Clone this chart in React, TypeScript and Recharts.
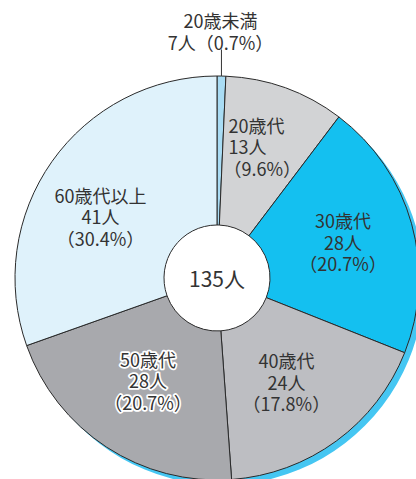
import React from "react";
import { PieChart, Pie, Cell } from "recharts";

const categories = ["20歳未満", "20歳代", "30歳代", "40歳代", "50歳代", "60歳代以上"];
const percents = [0.7, 9.6, 20.7, 17.8, 20.7, 30.4];
const countLabels = ["7人", "13人", "28人", "24人", "28人", "41人"];
const percentLabels = ["0.7%", "9.6%", "20.7%", "17.8%", "20.7%", "30.4%"];
const TOTAL_LABEL = "135人";

const colors = ["#a9dcf4", "#d2d3d5", "#14c0f0", "#bdbec2", "#a8a9ad", "#dff2fb"];
const labelRadius = [0, 140, 134, 131, 126, 128];
const labelShift: Array<[number, number]> = [
  [0, 0],
  [-36, 0],
  [-3, 0],
  [-8, -2],
  [0, -3],
  [-12, 12],
];

const data = categories.map((name, i) => ({
  name,
  value: percents[i],
  count: countLabels[i],
  pct: percentLabels[i],
}));

const shadowData = [{ name: "shadow", value: 1 }];
const centerData = [{ name: "total", value: 1 }];

const FONT = "'Noto Sans CJK JP', 'Noto Sans', sans-serif";
const RADIAN = Math.PI / 180;
const LINE_H = 21.5;
const FS = 18;

function renderLabel(props: any) {
  const { cx, cy, midAngle, outerRadius, index } = props;
  const d = data[index];
  const cos = Math.cos(-midAngle * RADIAN);
  const sin = Math.sin(-midAngle * RADIAN);
  if (index === 0) {
    const x0 = cx + outerRadius * cos;
    const y0 = cy + outerRadius * sin;
    const ty = 20;
    return (
      <g>
        <line x1={x0} y1={y0} x2={x0} y2={ty + LINE_H + 8} stroke="#333" strokeWidth={1} />
        <text textAnchor="middle" fill="#333" fontFamily={FONT} fontSize={FS}>
          <tspan x={x0 - 1} y={ty} dominantBaseline="central">{d.name}</tspan>
          <tspan x={x0 - 1} y={ty + LINE_H} dominantBaseline="central">{`${d.count}（${d.pct}）`}</tspan>
        </text>
      </g>
    );
  }
  const r = labelRadius[index];
  const x = cx + r * cos + labelShift[index][0];
  const y = cy + r * sin + labelShift[index][1];
  const anchor = index === 1 ? "start" : "middle";
  const outline = index === 4;
  const lines = [d.name, d.count, `（${d.pct}）`];
  return (
    <text
      textAnchor={anchor}
      fill="#333"
      fontFamily={FONT}
      fontSize={FS}
      stroke={outline ? "#fff" : "none"}
      strokeWidth={outline ? 3.5 : 0}
      strokeLinejoin="round"
      paintOrder="stroke"
    >
      {lines.map((t, i) => (
        <tspan
          key={i}
          x={index === 1 && i === 2 ? x - 5 : x}
          y={y + (i - 1) * LINE_H}
          dominantBaseline="central"
        >
          {t}
        </tspan>
      ))}
    </text>
  );
}

function renderCenter(props: any) {
  const { cx, cy } = props;
  return (
    <text
      x={cx}
      y={cy}
      textAnchor="middle"
      dominantBaseline="central"
      fill="#333"
      fontFamily={FONT}
      fontSize={21}
    >
      {TOTAL_LABEL}
    </text>
  );
}

export default function App() {
  return (
    <div style={{ position: "absolute", left: 0, top: 0, width: 416, height: 479, background: "#fff" }}>
      <PieChart width={416} height={479}>
        <Pie
          data={shadowData}
          dataKey="value"
          cx={217}
          cy={278}
          innerRadius={64}
          outerRadius={202}
          stroke="none"
          fill="#45c6f2"
          isAnimationActive={false}
          startAngle={90}
          endAngle={-270}
        />
        <Pie
          data={data}
          dataKey="value"
          cx={212}
          cy={273}
          innerRadius={53}
          outerRadius={202}
          startAngle={90}
          endAngle={-270}
          stroke="#2a2a2a"
          strokeWidth={1}
          isAnimationActive={false}
          labelLine={false}
          label={renderLabel}
        >
          {data.map((d, i) => (
            <Cell key={d.name} fill={colors[i]} />
          ))}
        </Pie>
        <Pie
          data={centerData}
          dataKey="value"
          cx={212}
          cy={273}
          innerRadius={0}
          outerRadius={52}
          stroke="none"
          fill="#ffffff"
          isAnimationActive={false}
          labelLine={false}
          label={renderCenter}
          startAngle={90}
          endAngle={-270}
        />
      </PieChart>
    </div>
  );
}
